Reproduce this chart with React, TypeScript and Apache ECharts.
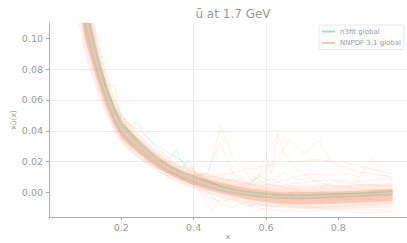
import React, { useEffect, useRef } from "react";
import * as echarts from "echarts";

// x grid of the replicas
const X = [0.06, 0.08, 0.10, 0.12, 0.14, 0.16, 0.18, 0.20, 0.225, 0.25, 0.275, 0.30, 0.335, 0.37, 0.405, 0.44, 0.475, 0.51, 0.545, 0.58, 0.615, 0.65, 0.685, 0.72, 0.755, 0.79, 0.825, 0.86, 0.895, 0.93, 0.95];

// n3fit global: central value and dense band
const n3fitCentral = [0.198, 0.147, 0.115, 0.095, 0.0775, 0.063, 0.051, 0.0415, 0.0355, 0.0300, 0.0250, 0.0205, 0.0152, 0.0111, 0.0080, 0.0052, 0.0027, 0.0008, -0.0006, -0.0016, -0.0023, -0.0028, -0.0029, -0.0028, -0.0025, -0.0022, -0.0018, -0.0014, -0.0010, -0.0005, -0.0002];
const n3fitLo = [0.175, 0.131, 0.103, 0.086, 0.070, 0.0565, 0.0455, 0.037, 0.031, 0.0262, 0.0216, 0.0175, 0.0125, 0.0086, 0.0056, 0.0030, 0.0008, -0.0009, -0.0022, -0.0032, -0.0039, -0.0043, -0.0045, -0.0044, -0.0042, -0.0039, -0.0035, -0.0031, -0.0027, -0.0023, -0.0020];
const n3fitHi = [0.222, 0.163, 0.127, 0.104, 0.085, 0.0695, 0.0565, 0.046, 0.040, 0.0340, 0.0285, 0.0235, 0.0178, 0.0136, 0.0105, 0.0075, 0.0046, 0.0025, 0.0010, 0.0001, -0.0008, -0.0013, -0.0014, -0.0012, -0.0009, -0.0006, -0.0002, 0.0002, 0.0007, 0.0012, 0.0015];

// NNPDF 3.1 global: dense inner band and lighter outer band
const nnpdfInnerLo = [0.170, 0.126, 0.099, 0.083, 0.0675, 0.0542, 0.0434, 0.0352, 0.0295, 0.0246, 0.0200, 0.0159, 0.0111, 0.0073, 0.0043, 0.0016, -0.0007, -0.0026, -0.0045, -0.0058, -0.0068, -0.0075, -0.0078, -0.0078, -0.0076, -0.0074, -0.0071, -0.0068, -0.0064, -0.0060, -0.0058];
const nnpdfInnerHi = [0.230, 0.170, 0.131, 0.107, 0.0865, 0.0698, 0.0566, 0.0468, 0.0395, 0.0334, 0.0280, 0.0231, 0.0179, 0.0139, 0.0109, 0.0084, 0.0063, 0.0046, 0.0029, 0.0018, 0.0008, 0.0003, 0.0002, 0.0002, 0.0004, 0.0006, 0.0009, 0.0012, 0.0016, 0.0020, 0.0022];
const nnpdfOuterLo = [0.150, 0.112, 0.089, 0.0745, 0.0610, 0.0490, 0.0390, 0.0315, 0.0262, 0.0216, 0.0174, 0.0134, 0.0088, 0.0050, 0.0020, -0.0010, -0.0034, -0.0054, -0.0072, -0.0085, -0.0095, -0.0102, -0.0106, -0.0108, -0.0108, -0.0108, -0.0106, -0.0104, -0.0102, -0.0100, -0.0098];
const nnpdfOuterHi = [0.250, 0.186, 0.142, 0.116, 0.094, 0.076, 0.062, 0.0515, 0.0438, 0.0375, 0.0318, 0.0265, 0.0212, 0.0172, 0.0142, 0.0118, 0.0098, 0.0082, 0.0068, 0.0058, 0.0050, 0.0046, 0.0044, 0.0044, 0.0046, 0.0048, 0.0050, 0.0052, 0.0055, 0.0058, 0.0060];

// individual n3fit replicas that stand out
const n3fitRepA = [[0.06, 0.19], [0.08, 0.145], [0.10, 0.114], [0.12, 0.095], [0.14, 0.079], [0.16, 0.066], [0.18, 0.056], [0.20, 0.049], [0.225, 0.044], [0.25, 0.040], [0.275, 0.035], [0.30, 0.030], [0.335, 0.025], [0.37, 0.020], [0.405, 0.013], [0.44, 0.008], [0.475, 0.004], [0.51, 0.0015], [0.545, 0.0], [0.58, -0.001], [0.615, -0.0015], [0.65, -0.002], [0.72, -0.002], [0.79, -0.0015], [0.86, -0.001], [0.95, 0.0005]];
const n3fitRepB = [[0.06, 0.205], [0.08, 0.150], [0.10, 0.116], [0.12, 0.096], [0.14, 0.078], [0.16, 0.064], [0.18, 0.053], [0.20, 0.045], [0.225, 0.039], [0.25, 0.034], [0.275, 0.029], [0.30, 0.024], [0.335, 0.019], [0.37, 0.0155], [0.385, 0.021], [0.405, 0.012], [0.44, 0.0075], [0.475, 0.004], [0.51, 0.001], [0.545, -0.001], [0.58, -0.002], [0.65, -0.003], [0.72, -0.003], [0.79, -0.0025], [0.86, -0.0015], [0.95, -0.0005]];
const n3fitRepC = [[0.06, 0.19], [0.08, 0.14], [0.10, 0.109], [0.12, 0.090], [0.14, 0.073], [0.16, 0.059], [0.18, 0.047], [0.20, 0.038], [0.25, 0.026], [0.30, 0.017], [0.37, 0.009], [0.44, 0.003], [0.51, -0.001], [0.58, -0.003], [0.65, -0.004], [0.72, -0.004], [0.79, -0.003], [0.86, -0.002], [0.95, -0.001]];
const n3fitRepD = [[0.14, 0.080], [0.16, 0.066], [0.18, 0.055], [0.20, 0.047], [0.225, 0.043], [0.243, 0.046], [0.26, 0.039], [0.30, 0.028], [0.335, 0.022], [0.353, 0.028], [0.37, 0.018], [0.405, 0.011], [0.44, 0.007], [0.475, 0.004], [0.51, 0.002], [0.58, 0.0], [0.65, -0.001], [0.72, -0.001], [0.79, -0.001], [0.95, 0.0]];

// individual NNPDF replicas that stand out
const nnpdfRep1 = [[0.30, 0.021], [0.335, 0.016], [0.37, 0.012], [0.405, 0.011], [0.44, 0.013], [0.475, 0.043], [0.51, 0.022], [0.545, 0.013], [0.58, 0.008], [0.615, 0.005], [0.65, 0.003], [0.685, 0.002], [0.72, 0.001], [0.79, 0.0], [0.86, -0.001], [0.95, -0.002]];
const nnpdfRep2 = [[0.30, 0.018], [0.335, 0.013], [0.37, 0.010], [0.405, 0.008], [0.44, 0.006], [0.475, 0.004], [0.51, 0.003], [0.545, 0.004], [0.58, 0.010], [0.60, 0.025], [0.615, 0.012], [0.632, 0.038], [0.65, 0.025], [0.685, 0.015], [0.72, 0.010], [0.755, 0.006], [0.79, 0.004], [0.86, 0.002], [0.95, 0.001]];
const nnpdfRep3 = [[0.40, 0.009], [0.44, 0.007], [0.475, 0.005], [0.51, 0.004], [0.545, 0.006], [0.58, 0.010], [0.615, 0.018], [0.667, 0.034], [0.708, 0.025], [0.745, 0.034], [0.78, 0.020], [0.805, 0.017], [0.86, 0.013], [0.92, 0.011], [0.95, 0.010]];
const nnpdfRep4 = [[0.60, 0.005], [0.65, 0.008], [0.72, 0.012], [0.79, 0.011], [0.825, 0.012], [0.86, 0.010], [0.893, 0.022], [0.92, 0.012], [0.95, 0.009]];
const nnpdfRep5 = [[0.40, 0.012], [0.44, 0.010], [0.475, 0.011], [0.51, 0.013], [0.545, 0.015], [0.58, 0.016], [0.615, 0.018], [0.65, 0.019], [0.685, 0.020], [0.72, 0.021], [0.755, 0.021], [0.79, 0.020], [0.825, 0.019], [0.86, 0.017], [0.895, 0.015], [0.93, 0.013], [0.95, 0.012]];
const nnpdfRep6 = [[0.335, 0.014], [0.37, 0.009], [0.405, 0.004], [0.45, -0.012], [0.475, -0.004], [0.51, -0.006], [0.545, -0.008], [0.58, -0.010], [0.615, -0.011], [0.65, -0.012], [0.72, -0.012], [0.79, -0.011], [0.86, -0.011], [0.95, -0.012]];
const nnpdfRep7 = [[0.37, 0.012], [0.405, 0.018], [0.418, 0.021], [0.44, 0.015], [0.473, 0.032], [0.51, 0.012], [0.545, 0.006], [0.58, 0.004], [0.615, 0.002], [0.65, 0.001], [0.72, 0.0], [0.79, -0.001], [0.86, -0.001], [0.95, -0.001]];
const nnpdfRep8 = [[0.37, 0.011], [0.405, 0.008], [0.44, 0.010], [0.475, 0.006], [0.51, 0.009], [0.545, 0.003], [0.58, 0.011], [0.615, 0.007], [0.65, 0.013], [0.685, 0.008], [0.72, 0.009], [0.755, 0.004], [0.79, 0.007], [0.86, 0.005], [0.95, 0.004]];
const nnpdfRep9 = [[0.40, 0.004], [0.44, -0.003], [0.475, -0.006], [0.51, -0.004], [0.545, -0.009], [0.58, -0.007], [0.615, -0.010], [0.65, -0.008], [0.72, -0.010], [0.79, -0.009], [0.86, -0.008], [0.95, -0.007]];
const nnpdfRep10 = [[0.06, 0.21], [0.08, 0.16], [0.10, 0.124], [0.12, 0.100], [0.14, 0.081], [0.16, 0.069], [0.18, 0.070], [0.20, 0.046], [0.225, 0.038], [0.25, 0.031], [0.30, 0.021], [0.37, 0.012]];
const nnpdfRep11 = [[0.06, 0.18], [0.08, 0.128], [0.10, 0.100], [0.12, 0.083], [0.14, 0.066], [0.16, 0.053], [0.18, 0.043], [0.20, 0.034], [0.225, 0.028], [0.25, 0.022], [0.30, 0.016], [0.37, 0.008], [0.405, 0.005], [0.44, 0.001]];
const nnpdfRep12 = [[0.40, 0.006], [0.44, 0.004], [0.475, 0.008], [0.51, 0.002], [0.545, -0.002], [0.58, 0.003], [0.615, -0.001], [0.65, -0.004], [0.685, 0.002], [0.72, -0.003], [0.79, -0.005], [0.86, -0.004], [0.95, -0.006]];
const nnpdfRep13 = [[0.40, 0.010], [0.44, 0.012], [0.475, 0.009], [0.51, 0.007], [0.545, 0.010], [0.58, 0.006], [0.615, 0.009], [0.65, 0.005], [0.72, 0.007], [0.79, 0.008], [0.86, 0.007], [0.93, 0.009], [0.95, 0.008]];
const nnpdfRep14 = [[0.44, 0.0], [0.475, -0.008], [0.51, -0.010], [0.545, -0.006], [0.58, -0.012], [0.615, -0.008], [0.65, -0.006], [0.72, -0.009], [0.79, -0.012], [0.86, -0.013], [0.95, -0.013]];

const xTicks = [0.2, 0.4, 0.6, 0.8];
const yTicks = [0, 0.02, 0.04, 0.06, 0.08, 0.10];

const TEAL = "#66c2a5";
const SALMON = "#fc8d62";
const TEAL_LIGHT = "#a9decb";
const TEAL_LINE = "#b3e2d2";
const SALMON_LIGHT = "#fdc6b0";
const GRAY = "#9a9a9a";
const FONT = "DejaVu Sans";

function band(name: string, lo: number[], hi: number[], fill: string, z: number, legendColor?: string) {
  return {
    type: "custom",
    name,
    clip: true,
    silent: true,
    z,
    itemStyle: { color: legendColor || fill },
    data: [[0.5, 0]],
    renderItem: (params: any, api: any) => {
      const pts: number[][] = [];
      for (let i = 0; i < X.length; i++) pts.push(api.coord([X[i], lo[i]]));
      for (let i = X.length - 1; i >= 0; i--) pts.push(api.coord([X[i], hi[i]]));
      const cs = params.coordSys;
      return {
        type: "group",
        clipPath: { type: "rect", shape: { x: cs.x, y: cs.y, width: cs.width, height: cs.height } },
        children: [{ type: "polygon", shape: { points: pts }, style: { fill } }],
      };
    },
  };
}

function rep(name: string, data: number[][], color: string, opacity: number, z: number) {
  return {
    type: "line",
    name,
    data,
    symbol: "none",
    silent: true,
    z,
    lineStyle: { color, width: 1, opacity },
  };
}

export default function App() {
  const ref = useRef<HTMLDivElement>(null);
  useEffect(() => {
    if (!ref.current) return;
    const chart = echarts.init(ref.current, null, { renderer: "svg" });
    const nnpdfReps = [nnpdfRep1, nnpdfRep2, nnpdfRep3, nnpdfRep4, nnpdfRep5, nnpdfRep6, nnpdfRep7, nnpdfRep8, nnpdfRep9, nnpdfRep10, nnpdfRep11, nnpdfRep12, nnpdfRep13, nnpdfRep14];
    const n3fitReps = [n3fitRepA, n3fitRepB, n3fitRepC, n3fitRepD];
    const option: any = {
      animation: false,
      title: {
        text: "ū at 1.7 GeV",
        left: 228,
        top: 3,
        textAlign: "center",
        textStyle: { fontFamily: FONT, fontSize: 12, fontWeight: "normal", color: GRAY },
      },
      legend: {
        orient: "vertical",
        left: 319,
        top: 25,
        padding: [3, 3, 3, 3],
        itemGap: 4.5,
        itemWidth: 13,
        itemHeight: 2,
        backgroundColor: "#ffffff",
        borderColor: "#e2e2e2",
        borderWidth: 0.8,
        borderRadius: 2,
        textStyle: { fontFamily: FONT, fontSize: 7, color: GRAY, padding: [0, 0, 0, 0] },
        data: [
          { name: "n3fit global", icon: "rect", itemStyle: { color: TEAL_LIGHT, opacity: 1 } },
          { name: "NNPDF 3.1 global", icon: "rect", itemStyle: { color: SALMON_LIGHT, opacity: 1 } },
        ],
      },
      grid: { left: 49, right: 0, top: 23, bottom: 26, containLabel: false, outerBoundsMode: "none" },
      xAxis: {
        type: "value",
        position: "bottom",
        min: 0,
        max: 0.99,
        interval: 0.2,
        name: "x",
        nameLocation: "middle",
        nameGap: 15,
        nameMoveOverlap: false,
        nameTextStyle: { fontFamily: FONT, fontSize: 7.5, color: GRAY, verticalAlign: "top" },
        axisLine: { show: true, onZero: false, lineStyle: { color: "#aaaaaa", width: 1 } },
        axisTick: { show: true, length: 3, customValues: xTicks, lineStyle: { color: "#aaaaaa" } },
        axisLabel: {
          customValues: xTicks,
          margin: 5,
          fontFamily: FONT,
          fontSize: 9.5,
          color: GRAY,
          formatter: (v: number) => v.toFixed(1),
        },
        splitLine: { show: true, showMinLine: false, showMaxLine: false, lineStyle: { color: "#ececec", width: 1 } },
      },
      yAxis: {
        type: "value",
        position: "left",
        min: -0.016,
        max: 0.11,
        splitNumber: 6,
        name: "xū(x)",
        nameLocation: "middle",
        nameRotate: 90,
        nameGap: 32,
        nameMoveOverlap: false,
        nameTextStyle: { fontFamily: FONT, fontSize: 7.5, color: GRAY },
        axisLine: { show: true, onZero: false, lineStyle: { color: "#aaaaaa", width: 1 } },
        axisTick: { show: true, length: 3, customValues: yTicks, lineStyle: { color: "#aaaaaa" } },
        axisLabel: {
          customValues: yTicks,
          margin: 6,
          fontFamily: FONT,
          fontSize: 9.5,
          color: GRAY,
          formatter: (v: number) => v.toFixed(2),
        },
        splitLine: { show: true, showMinLine: false, showMaxLine: false, lineStyle: { color: "#ececec", width: 1 } },
      },
      series: [
        band("n3fit band", n3fitLo, n3fitHi, "rgba(102,194,165,0.28)", 2),
        ...n3fitReps.map((d) => rep("n3fit rep", d, TEAL, 0.22, 3)),
        band("NNPDF outer", nnpdfOuterLo, nnpdfOuterHi, "rgba(252,141,98,0.16)", 4),
        band("NNPDF 3.1 global", nnpdfInnerLo, nnpdfInnerHi, "rgba(252,141,98,0.36)", 5, SALMON_LIGHT),
        ...nnpdfReps.map((d) => rep("NNPDF rep", d, SALMON, 0.15, 6)),
        {
          type: "line",
          name: "n3fit global",
          data: X.map((x, i) => [x, n3fitCentral[i]]),
          symbol: "none",
          silent: true,
          z: 7,
          itemStyle: { color: TEAL_LIGHT },
          lineStyle: { color: TEAL_LINE, width: 1.5, opacity: 0.85 },
        },
      ],
    };
    chart.setOption(option);
    return () => chart.dispose();
  }, []);
  return (
    <div
      ref={ref}
      style={{ position: "fixed", left: 0, top: 0, width: 407, height: 243, background: "#fff" }}
    />
  );
}
